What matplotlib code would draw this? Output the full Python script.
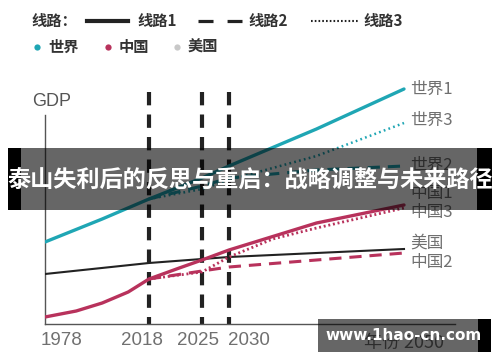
import numpy as np
import matplotlib
matplotlib.use("Agg")
import matplotlib.pyplot as plt
from matplotlib.lines import Line2D
from matplotlib.patches import Rectangle
import matplotlib.transforms as mtransforms

CJK = ['Noto Sans CJK SC', 'DejaVu Sans']
plt.rcParams['font.family'] = CJK

# ---------------- data ----------------
tick_years = [1978, 2018, 2025, 2030]
tick_labels = ['1978', '2018', '2025', '2030']
decision_years = [2018, 2025, 2030]

world1_years = [1978, 2000, 2018, 2025, 2030, 2040, 2050]
world1 = [82, 105, 125, 146, 158, 195, 235]
world2_years = [2018, 2025, 2030, 2040, 2050]
world2 = [125, 138, 146, 154, 158]
world3_years = [2018, 2025, 2030, 2040, 2050]
world3 = [125, 135, 144, 168, 201]

china1_years = [1978, 1990, 2000, 2010, 2018, 2022, 2025, 2030, 2040, 2050]
china1 = [7, 13, 21, 32, 45, 56, 64, 74, 101, 119]
china2_years = [2018, 2025, 2030, 2040, 2050]
china2 = [45, 53, 57, 64, 71]
china3_years = [2018, 2025, 2030, 2035, 2040, 2050]
china3 = [45, 52, 67, 85, 96, 116]

us_years = [1978, 2018, 2025, 2030, 2040, 2050]
us = [50, 61, 65, 67, 71, 75]

end_labels = ['世界1', '世界3', '世界2', '中国1', '中国3', '美国', '中国2']
end_label_y = [235, 204, 159, 131, 112, 81, 61]

title = '泰山失利后的反思与重启：战略调整与未来路径'
watermark = 'www.1hao-cn.com'

# ---------------- style ----------------
TEAL = '#1fa6b4'
RED = '#b8325c'
BLACK = '#222222'
GRAY_TXT = '#707070'

W, H = 500, 362
fig = plt.figure(figsize=(W / 100, H / 100), dpi=100)

def fx(x):
    return x / W

def fy(y):
    return 1 - y / H

# axes box in pixels
L, R, B, T = 45, 455, 324, 75
ax = fig.add_axes([fx(L), fy(B), fx(R) - fx(L), fy(T) - fy(B)])

# piecewise schematic year scale
anchor_years = np.array([1970, 1978, 2018, 2025, 2030, 2050, 2070])
anchor_pos = np.array([45 - 8 * 2.6, 45, 149, 202, 229, 404, 404 + 20 * 8.8])

def fwd(v):
    return np.interp(v, anchor_years, anchor_pos)

def inv(p):
    return np.interp(p, anchor_pos, anchor_years)

ax.set_xscale('function', functions=(fwd, inv))
ax.set_xlim(1978, inv(455))
ax.set_ylim(0, B - T)

for s in ['top', 'right']:
    ax.spines[s].set_visible(False)
ax.spines['left'].set_bounds(0, B - 115)
ax.spines['left'].set_color('#555555')
ax.spines['bottom'].set_color('#555555')
ax.spines['left'].set_linewidth(1.0)
ax.spines['bottom'].set_linewidth(1.0)
ax.set_yticks([])
ax.set_xticks(tick_years)
ax.set_xticklabels(tick_labels, family=['Liberation Sans'], fontsize=13.5, color=GRAY_TXT)
ax.tick_params(axis='x', length=0, pad=6)
offsets = [16, -7, -4, 20]
for lab, off in zip(ax.get_xticklabels(), offsets):
    lab.set_transform(lab.get_transform() + mtransforms.ScaledTranslation(off / 100, 0, fig.dpi_scale_trans))

# decision lines
for yr in decision_years:
    ax.plot([yr, yr], [B - 92, 0], color=BLACK, lw=3.0, dashes=(3.2, 2.2), zorder=2,
            solid_capstyle='butt', dash_capstyle='butt')

# series
ax.plot(us_years, us, color=BLACK, lw=1.5, zorder=3)
ax.plot(world2_years, world2, color=TEAL, lw=2.2, dashes=(4, 2.6), zorder=3)
ax.plot(world3_years, world3, color=TEAL, lw=1.8, dashes=(0.7, 1.3), zorder=3)
ax.plot(world1_years, world1, color=TEAL, lw=2.4, zorder=4, solid_capstyle='round')
ax.plot(china2_years, china2, color=RED, lw=2.2, dashes=(4, 2.6), zorder=3)
ax.plot(china3_years, china3, color=RED, lw=2.0, dashes=(0.7, 1.0), zorder=3)
ax.plot(china1_years, china1, color=RED, lw=2.4, zorder=4, solid_capstyle='round')

# end labels
lab_tr = ax.transData + mtransforms.ScaledTranslation(6 / 100, 0, fig.dpi_scale_trans)
for lab, yv in zip(end_labels, end_label_y):
    ax.text(2050, yv, lab, transform=lab_tr, fontsize=12,
            color=GRAY_TXT, va='center', ha='left', family=CJK)

# GDP axis label
fig.text(fx(52), fy(101), 'GDP', family=['Liberation Sans'], fontsize=13, color='#555555',
         ha='center', va='center')
# x axis name
fig.text(fx(364), fy(343), '年份 2050', family=CJK, fontsize=13, color=GRAY_TXT,
         ha='left', va='center')

# ---------------- legend ----------------
LEG_TXT = '#333333'
fig.text(fx(31), fy(21), '线路：', fontsize=11, color=LEG_TXT, weight='bold', va='center', ha='left')
fig.add_artist(Line2D([fx(87), fx(128)], [fy(21), fy(21)], color=BLACK, lw=3, transform=fig.transFigure))
fig.text(fx(137), fy(21), '线路1', fontsize=11, color=LEG_TXT, weight='bold', va='center', ha='left')
fig.add_artist(Line2D([fx(198), fx(242)], [fy(21), fy(21)], color=BLACK, lw=2.3,
                      dashes=(4.7, 4.4), transform=fig.transFigure))
fig.text(fx(248), fy(21), '线路2', fontsize=11, color=LEG_TXT, weight='bold', va='center', ha='left')
fig.add_artist(Line2D([fx(311), fx(358)], [fy(21), fy(21)], color=BLACK, lw=1.5,
                      dashes=(0.8, 1.0), transform=fig.transFigure))
fig.text(fx(363), fy(21), '线路3', fontsize=11, color=LEG_TXT, weight='bold', va='center', ha='left')

for xd, col, lab in [(37, TEAL, '世界'), (108, RED, '中国'), (177, '#c8c8c8', '美国')]:
    fig.add_artist(Line2D([fx(xd)], [fy(47)], marker='o', markersize=4.5, color=col,
                          markeredgewidth=0, transform=fig.transFigure))
    fig.text(fx(xd + 11), fy(47), lab, fontsize=11, color=LEG_TXT, weight='bold', va='center', ha='left')

# ---------------- overlays ----------------
def prect(x0, y0, x1, y1, **kw):
    fig.add_artist(Rectangle((fx(x0), fy(y1)), fx(x1) - fx(x0), fy(y0) - fy(y1),
                             transform=fig.transFigure, lw=0, **kw))

prect(21, 148, 477, 210, facecolor='black', alpha=0.6, zorder=10)
prect(8, 148, 21, 210, facecolor='black', zorder=10)
prect(477, 148, 492, 210, facecolor='black', zorder=10)
fig.text(fx(250), fy(181), title, fontsize=16.7, color='white', weight='bold',
         ha='center', va='center', zorder=11)

prect(318, 319, 478, 352, facecolor='black', alpha=0.6, zorder=10)
prect(478, 319, 491, 352, facecolor='black', zorder=10)
fig.text(fx(404), fy(336), watermark, family=['DejaVu Sans'], fontsize=11, color='white',
         weight='bold', ha='center', va='center', zorder=11)

fig.savefig('out.png', dpi=100)
